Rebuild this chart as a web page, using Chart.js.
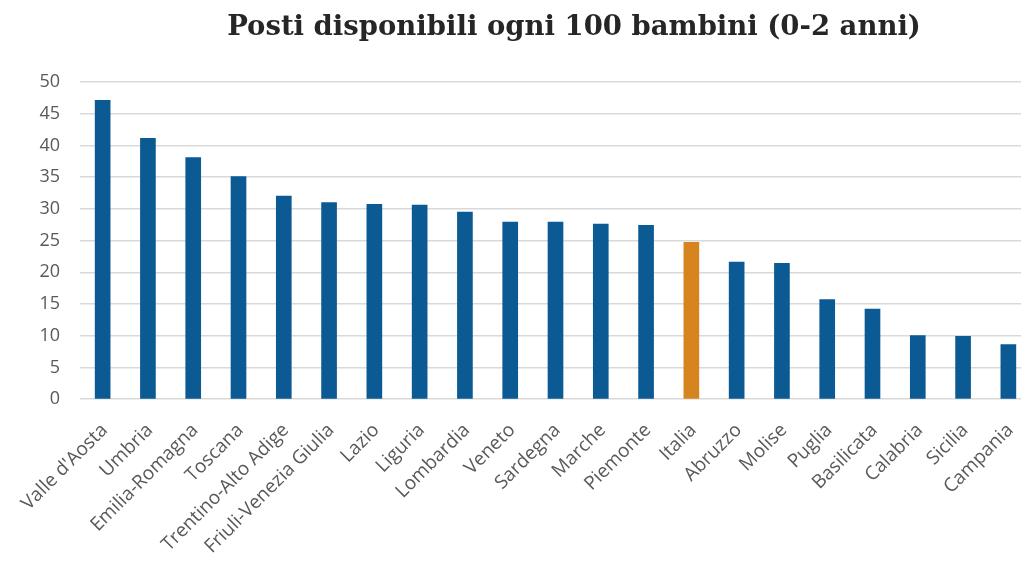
<!DOCTYPE html>
<html>
<head>
<meta charset="utf-8">
<script src="https://cdn.jsdelivr.net/npm/chart.js@4/dist/chart.umd.min.js"></script>
<style>
  html, body { margin: 0; padding: 0; background: #fff; overflow: hidden; }
  #wrap { width: 1040px; height: 562px; }
</style>
</head>
<body>
<div id="wrap"><canvas id="regionsChart"></canvas></div>
<script>
const regions = ["Valle d'Aosta", 'Umbria', 'Emilia-Romagna', 'Toscana', 'Trentino-Alto Adige',
    'Friuli-Venezia Giulia', 'Lazio', 'Liguria', 'Lombardia', 'Veneto', 'Sardegna', 'Marche',
    'Piemonte', 'Italia', 'Abruzzo', 'Molise', 'Puglia', 'Basilicata', 'Calabria', 'Sicilia', 'Campania'];
const posti = [47.1, 41.1, 38.1, 35.1, 32.0, 31.0, 30.7, 30.6, 29.5, 27.9, 27.9, 27.6,
    27.4, 24.7, 21.6, 21.4, 15.7, 14.2, 10.0, 9.9, 8.6];
const yTicks = [0, 5, 10, 15, 20, 25, 30, 35, 40, 45, 50];
const titleText = 'Posti disponibili ogni 100 bambini (0-2 anni)';

const blue = '#0b5a94';
const orange = '#d6841f';
const barColors = regions.map(r => r === 'Italia' ? orange : blue);

// title sits right of the plot centre in the original, so draw it by hand
const titlePlugin = {
    id: 'titleText',
    afterDraw(chart) {
        const c = chart.ctx;
        c.save();
        c.font = 'bold 27.5px "DejaVu Serif"';
        c.fillStyle = '#262626';
        c.textAlign = 'center';
        c.textBaseline = 'alphabetic';
        c.fillText(titleText, 574, 35);
        c.restore();
    }
};

const ctx = document.getElementById('regionsChart').getContext('2d');
new Chart(ctx, {
    type: 'bar',
    data: {
        labels: regions,
        datasets: [{
            label: 'Posti disponibili',
            data: posti,
            backgroundColor: barColors,
            barThickness: 15
        }]
    },
    options: {
        responsive: true,
        maintainAspectRatio: false,
        animation: false,
        layout: { padding: { left: 24, right: 9, top: 82, bottom: -8 } },
        plugins: {
            legend: { display: false },
            tooltip: { enabled: false },
            title: { display: false }
        },
        scales: {
            x: {
                grid: { display: false },
                border: { display: false },
                ticks: {
                    color: '#595959',
                    font: { family: 'Open Sans', size: 19 },
                    minRotation: 45,
                    maxRotation: 45,
                    padding: 12,
                    labelOffset: 2
                }
            },
            y: {
                min: 0,
                max: 50,
                afterBuildTicks: axis => { axis.ticks = yTicks.map(v => ({ value: v })); },
                afterFit: axis => { axis.width = 56; },
                grid: { color: '#d9d9d9', lineWidth: 1.5, drawTicks: false },
                border: { display: false },
                ticks: {
                    color: '#595959',
                    font: { family: 'Open Sans', size: 18 },
                    padding: 20
                }
            }
        }
    },
    plugins: [titlePlugin]
});
</script>
</body>
</html>
